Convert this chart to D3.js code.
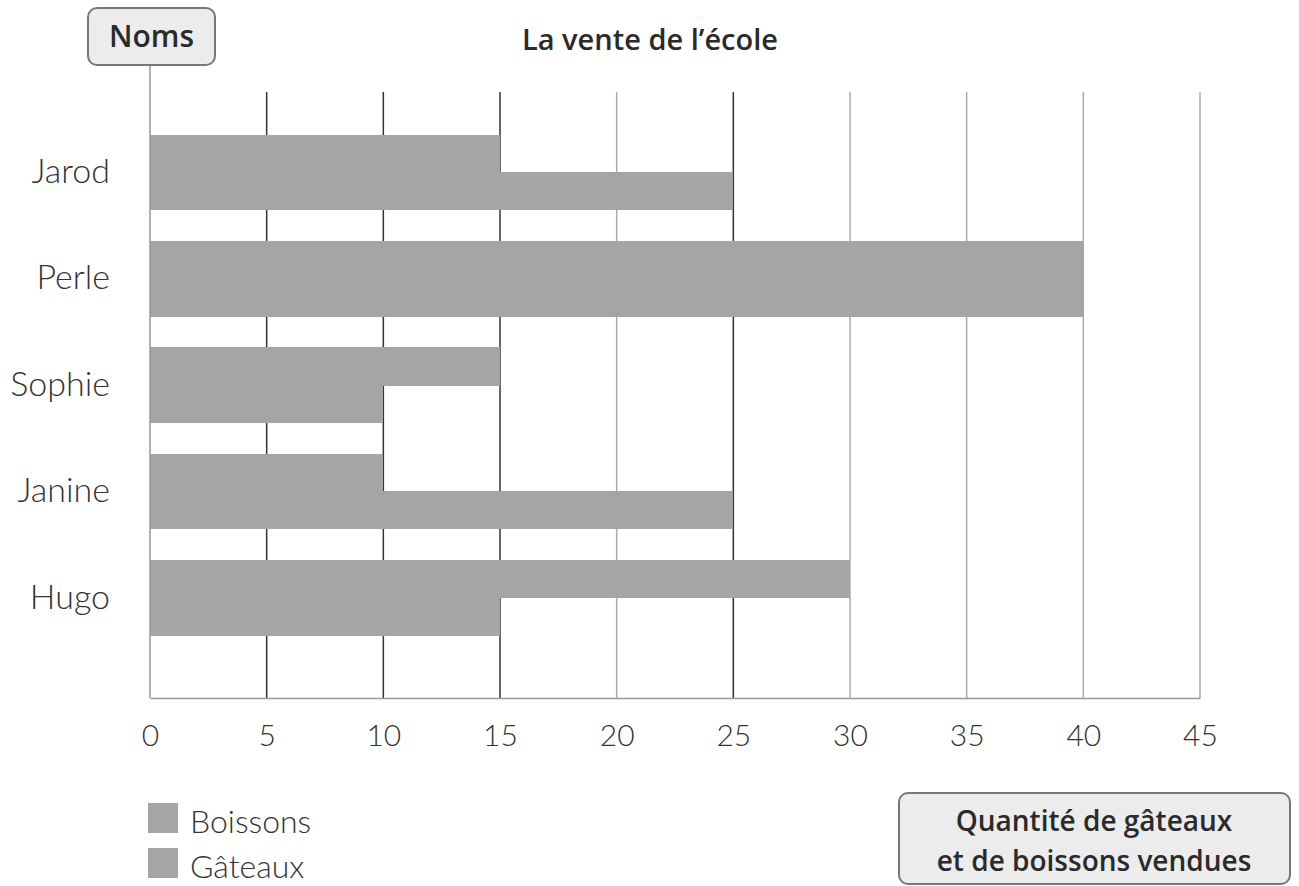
<!DOCTYPE html>
<html>
<head>
<meta charset="utf-8">
<script src="https://cdn.jsdelivr.net/npm/d3@7"></script>
<style>
  body { margin: 0; background: #fff; }
  text { font-family: Lato, "Open Sans", sans-serif; }
  .bold { font-family: "Open Sans", Lato, sans-serif; font-weight: 600; }
</style>
</head>
<body>
<div id="chart"></div>
<script>
const names = ["Jarod", "Perle", "Sophie", "Janine", "Hugo"];
const boissons = [15, 40, 15, 10, 30];
const gateaux = [25, 40, 10, 25, 15];
const series = ["Boissons", "Gâteaux"];
const xTicks = [0, 5, 10, 15, 20, 25, 30, 35, 40, 45];

const w = 1299;
const h = 886;
const plotLeft = 150, plotRight = 1200, plotTop = 92, plotBottom = 698;
const barColor = "#a5a5a5";

const svg = d3.select("#chart").append("svg")
    .attr("width", w)
    .attr("height", h);

const xScale = d3.scaleLinear().domain([0, 45]).range([plotLeft, plotRight]);
const yScale = d3.scaleBand()
    .domain(names)
    .range([119, 651])
    .paddingInner(0.295)
    .paddingOuter(0.147);
const subScale = d3.scaleBand().domain(series).range([0, yScale.bandwidth()]);

// grid lines
svg.append("g")
    .selectAll("line")
    .data(xTicks.slice(1))
    .enter()
    .append("line")
    .attr("x1", d => xScale(d))
    .attr("x2", d => xScale(d))
    .attr("y1", plotTop)
    .attr("y2", plotBottom)
    .attr("stroke", d => (d <= 25 && d != 20) ? "#333" : "#aaa")
    .attr("stroke-width", 1.5);

// bars
const rows = names.map((n, i) => ({name: n, values: [boissons[i], gateaux[i]]}));
svg.append("g")
    .attr("shape-rendering", "crispEdges")
    .selectAll("g")
    .data(rows)
    .enter()
    .append("g")
    .attr("transform", d => `translate(0, ${yScale(d.name)})`)
    .selectAll("rect")
    .data(d => d.values.map((v, i) => ({key: series[i], value: v})))
    .enter()
    .append("rect")
    .attr("x", xScale(0))
    .attr("y", d => subScale(d.key))
    .attr("width", d => xScale(d.value) - xScale(0))
    .attr("height", subScale.bandwidth() + 0.5)
    .attr("fill", barColor);

// y axis line
svg.append("line")
    .attr("x1", plotLeft).attr("x2", plotLeft)
    .attr("y1", 65).attr("y2", plotBottom)
    .attr("stroke", "#999")
    .attr("stroke-width", 1.5);

// x axis
const xAxis = d3.axisBottom(xScale).tickValues(xTicks).tickSize(0).tickPadding(27);
const gx = svg.append("g")
    .attr("transform", `translate(0, ${plotBottom})`)
    .call(xAxis);
gx.select(".domain").attr("stroke", "#999").attr("stroke-width", 1.5);
gx.selectAll("text")
    .attr("font-size", 30)
    .attr("font-weight", 300)
    .attr("fill", "#333")
    .style("font-family", "Lato, sans-serif");

// names
const yAxis = d3.axisLeft(yScale).tickSize(0).tickPadding(40);
const gy = svg.append("g")
    .attr("transform", `translate(${plotLeft}, 0)`)
    .call(yAxis);
gy.select(".domain").remove();
gy.selectAll("text")
    .attr("font-size", 34)
    .attr("font-weight", 300)
    .attr("fill", "#333")
    .style("font-family", "Lato, sans-serif");

// title
svg.append("text")
    .attr("class", "bold")
    .attr("x", 650)
    .attr("y", 50)
    .attr("text-anchor", "middle")
    .attr("font-size", 29)
    .attr("fill", "#2a2a2a")
    .text("La vente de l’école");

// Noms box
svg.append("rect")
    .attr("x", 88).attr("y", 8)
    .attr("width", 127).attr("height", 57)
    .attr("rx", 9)
    .attr("fill", "#ececec")
    .attr("stroke", "#777")
    .attr("stroke-width", 2);
svg.append("text")
    .attr("class", "bold")
    .attr("x", 151.5).attr("y", 47)
    .attr("text-anchor", "middle")
    .attr("font-size", 30)
    .attr("fill", "#2a2a2a")
    .text("Noms");

// x title box
svg.append("rect")
    .attr("x", 899).attr("y", 793)
    .attr("width", 391).attr("height", 91)
    .attr("rx", 9)
    .attr("fill", "#ececec")
    .attr("stroke", "#777")
    .attr("stroke-width", 2);
svg.append("text")
    .attr("class", "bold")
    .attr("x", 1094).attr("y", 831)
    .attr("text-anchor", "middle")
    .attr("font-size", 28)
    .attr("fill", "#2a2a2a")
    .text("Quantité de gâteaux");
svg.append("text")
    .attr("class", "bold")
    .attr("x", 1094).attr("y", 871)
    .attr("text-anchor", "middle")
    .attr("font-size", 28)
    .attr("fill", "#2a2a2a")
    .text("et de boissons vendues");

// legend
const legend = svg.append("g")
    .selectAll("g")
    .data(series)
    .enter()
    .append("g")
    .attr("transform", (d, i) => `translate(148, ${803 + i * 45})`);
legend.append("rect")
    .attr("width", 30).attr("height", 30)
    .attr("fill", barColor);
legend.append("text")
    .attr("x", 42).attr("y", 30)
    .attr("font-size", 32)
    .attr("font-weight", 300)
    .attr("fill", "#333")
    .text(d => d);
</script>
</body>
</html>
